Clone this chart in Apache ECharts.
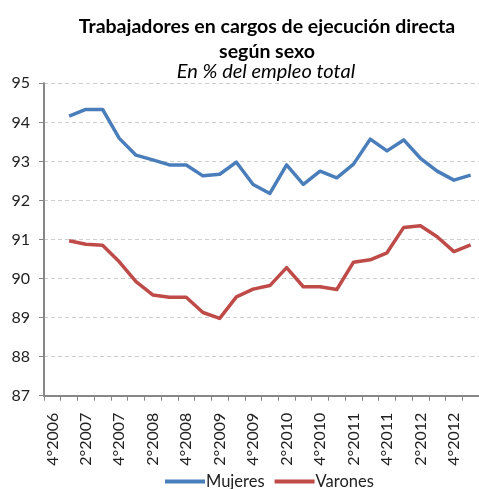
<!DOCTYPE html>
<html>
<head>
<meta charset="utf-8">
<script src="https://cdn.jsdelivr.net/npm/echarts@6/dist/echarts.min.js"></script>
<style>
html,body{margin:0;padding:0;background:#fff;}
#chart{width:479px;height:489px;}
</style>
</head>
<body>
<div id="chart"></div>
<script>
var categories = ['4°2006','1°2007','2°2007','3°2007','4°2007','1°2008','2°2008','3°2008','4°2008',
  '1°2009','2°2009','3°2009','4°2009','1°2010','2°2010','3°2010','4°2010','1°2011','2°2011','3°2011',
  '4°2011','1°2012','2°2012','3°2012','4°2012','1°2013'];
var mujeres = [null, 94.16, 94.33, 94.33, 93.59, 93.16, 93.04, 92.91, 92.91, 92.63, 92.67, 92.98, 92.41,
  92.18, 92.91, 92.41, 92.75, 92.58, 92.93, 93.57, 93.27, 93.55, 93.08, 92.75, 92.52, 92.65];
var varones = [null, 90.97, 90.88, 90.85, 90.43, 89.92, 89.58, 89.52, 89.52, 89.13, 88.98, 89.53, 89.73,
  89.82, 90.28, 89.79, 89.79, 89.72, 90.42, 90.48, 90.66, 91.31, 91.35, 91.07, 90.69, 90.86];
var yMin = 87, yMax = 95, yStep = 1;

var font = 'Lato';
var chart = echarts.init(document.getElementById('chart'), null, {renderer: 'canvas'});
chart.setOption({
  animation: false,
  backgroundColor: '#ffffff',
  title: [
    {
      text: 'Trabajadores en cargos de ejecución directa\nsegún sexo',
      left: 262, top: 9, textAlign: 'center',
      textStyle: {fontFamily: font, fontWeight: 'bold', fontSize: 19.5, lineHeight: 25, color: '#000'}
    },
    {
      text: 'En % del empleo total',
      left: 261, top: 57, textAlign: 'center',
      textStyle: {fontFamily: font, fontStyle: 'italic', fontWeight: 'normal', fontSize: 20, color: '#000'}
    }
  ],
  legend: {
    top: 468, left: 160,
    icon: 'rect', itemWidth: 40, itemHeight: 4, itemGap: 10,
    textStyle: {fontFamily: font, fontSize: 16.5, color: '#222', padding: [0,0,0,-4]},
    data: ['Mujeres', 'Varones']
  },
  grid: {left: 44, top: 83.3, width: 439.4, height: 312.4, containLabel: false},
  xAxis: {
    type: 'category',
    data: categories,
    boundaryGap: true,
    axisLine: {lineStyle: {color: '#868686', width: 2}},
    axisTick: {show: true, interval: 0, length: 5, lineStyle: {color: '#868686', width: 1}},
    axisLabel: {interval: 1, rotate: 90, margin: 17, fontFamily: font, fontSize: 16, color: '#222'},
    splitLine: {show: false}
  },
  yAxis: {
    type: 'value',
    min: yMin, max: yMax, interval: yStep,
    axisLine: {show: true, lineStyle: {color: '#868686', width: 2}},
    axisTick: {show: true, length: 5, inside: false, lineStyle: {color: '#868686', width: 1}},
    axisLabel: {margin: 14, fontFamily: font, fontSize: 16, color: '#222'},
    splitLine: {show: true, lineStyle: {color: '#cfcfcf', type: [4, 3], width: 1}}
  },
  series: [
    {
      name: 'Mujeres', type: 'line', data: mujeres, symbol: 'none', connectNulls: false,
      lineStyle: {color: '#4A7EBB', width: 3.5, join: 'round'}, itemStyle: {color: '#4A7EBB'}
    },
    {
      name: 'Varones', type: 'line', data: varones, symbol: 'none', connectNulls: false,
      lineStyle: {color: '#BE4B48', width: 3.5, join: 'round'}, itemStyle: {color: '#BE4B48'}
    }
  ]
});
</script>
</body>
</html>
